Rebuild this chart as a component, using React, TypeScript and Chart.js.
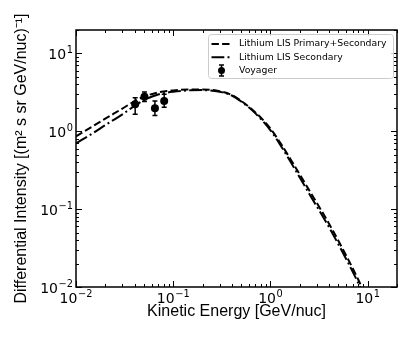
import { useEffect, useRef } from "react";
import { Chart, registerables } from "chart.js";

Chart.register(...registerables);

// ---- data ----
const energies = [0.01, 0.015, 0.02, 0.03, 0.04, 0.05, 0.07, 0.1, 0.15, 0.2, 0.3, 0.4, 0.5, 0.7, 1.0, 1.3, 1.7, 2.5, 4, 6, 8, 10];
const primarySecondary = [0.86, 1.17, 1.45, 1.96, 2.43, 2.78, 3.16, 3.35, 3.45, 3.45, 3.27, 2.92, 2.45, 1.75, 1.08, 0.67, 0.39, 0.175, 0.065, 0.0254, 0.0124, 0.0068];
const secondaryOnly = [0.7, 0.95, 1.2, 1.65, 2.12, 2.52, 2.97, 3.22, 3.36, 3.38, 3.22, 2.88, 2.41, 1.7, 1.03, 0.63, 0.36, 0.158, 0.0585, 0.0229, 0.0112, 0.0062];
const voyagerE = [0.0406, 0.0506, 0.0648, 0.0807];
const voyagerFlux = [2.22, 2.78, 1.97, 2.45];
const voyagerLow = [1.65, 2.42, 1.6, 2.03];
const voyagerHigh = [2.7, 3.19, 2.45, 2.98];

const seriesLabels = ["Lithium LIS Primary+Secondary", "Lithium LIS Secondary", "Voyager"];

const xRange = [0.01, 20];
const yRange = [0.01, 20];
const xDecades = [0.01, 0.1, 1, 10];
const xTickLabels = ["10^\u22122", "10^\u22121", "10^0", "10^1"];
const yDecades = [0.01, 0.1, 1, 10];
const yTickLabels = ["10^\u22122", "10^\u22121", "10^0", "10^1"];
const minorSteps = [1, 2, 3, 4, 5, 6, 7, 8, 9];

const xTitle = "Kinetic Energy [GeV/nuc]";
const yTitle = "Differential Intensity [(m\u00B2 s sr GeV/nuc)\u207B\u00B9]";

const DASHED = [7.4, 3.2];
const DASHDOT = [12.8, 3.2, 2, 3.2];

function logTicks(decades: number[], max: number) {
  const out: { value: number }[] = [];
  decades.forEach((d) => {
    minorSteps.forEach((m) => {
      const v = parseFloat((d * m).toPrecision(6));
      if (v <= max + 1e-9) out.push({ value: v });
    });
  });
  return out;
}

function isDecade(v: number) {
  const l = Math.log10(v);
  return Math.abs(l - Math.round(l)) < 1e-6;
}

// draw "base^exp" with a real raised exponent; y is the baseline
function drawPow(ctx: CanvasRenderingContext2D, label: string, x: number, y: number, align: "center" | "right") {
  const [base, exp] = label.split("^");
  ctx.font = '14px "DejaVu Sans"';
  const wb = ctx.measureText(base).width;
  ctx.font = '9.8px "DejaVu Sans"';
  const we = ctx.measureText(exp).width;
  const total = wb + 0.6 + we;
  const sx = align === "center" ? x - total / 2 : x - total;
  ctx.textAlign = "left";
  ctx.textBaseline = "alphabetic";
  ctx.font = '14px "DejaVu Sans"';
  ctx.fillText(base, sx, y);
  ctx.font = '9.8px "DejaVu Sans"';
  ctx.fillText(exp, sx + wb + 0.6, y - 6);
}

const decorPlugin = {
  id: "decor",
  afterDatasetsDraw(chart: any) {
    const { ctx, chartArea: a, scales } = chart;
    const xs = scales.x;
    const ys = scales.y;
    ctx.save();

    // error bars
    ctx.strokeStyle = "#000";
    ctx.lineWidth = 1.5;
    voyagerE.forEach((e, i) => {
      const px = xs.getPixelForValue(e);
      const pl = ys.getPixelForValue(voyagerLow[i]);
      const ph = ys.getPixelForValue(voyagerHigh[i]);
      ctx.beginPath();
      ctx.moveTo(px, pl);
      ctx.lineTo(px, ph);
      ctx.moveTo(px - 2.5, pl);
      ctx.lineTo(px + 2.5, pl);
      ctx.moveTo(px - 2.5, ph);
      ctx.lineTo(px + 2.5, ph);
      ctx.stroke();
    });

    // inward ticks on all four sides
    ctx.lineWidth = 1;
    ctx.beginPath();
    xs.ticks.forEach((t: any) => {
      const px = Math.round(xs.getPixelForValue(t.value)) + 0.5;
      const len = isDecade(t.value) ? 6 : 3;
      ctx.moveTo(px, a.bottom);
      ctx.lineTo(px, a.bottom - len);
      ctx.moveTo(px, a.top);
      ctx.lineTo(px, a.top + len);
    });
    ys.ticks.forEach((t: any) => {
      const py = Math.round(ys.getPixelForValue(t.value)) + 0.5;
      const len = isDecade(t.value) ? 6 : 3;
      ctx.moveTo(a.left, py);
      ctx.lineTo(a.left + len, py);
      ctx.moveTo(a.right, py);
      ctx.lineTo(a.right - len, py);
    });
    ctx.stroke();

    // frame
    ctx.lineWidth = 1.5;
    ctx.strokeRect(a.left, a.top, a.right - a.left, a.bottom - a.top);

    // tick labels (decades) with raised exponents, positioned by the scales
    ctx.fillStyle = "#000";
    xDecades.forEach((v, i) => {
      const px = xs.getPixelForValue(v);
      drawPow(ctx, xTickLabels[i], px, a.bottom + 16, "center");
    });
    yDecades.forEach((v, i) => {
      const py = ys.getPixelForValue(v);
      drawPow(ctx, yTickLabels[i], a.left - 3, py + 5.5, "right");
    });

    // legend
    const bw = 185;
    const bh = 44;
    const bx = a.right - 4 - bw;
    const by = a.top + 4;
    ctx.beginPath();
    if (ctx.roundRect) ctx.roundRect(bx + 0.5, by + 0.5, bw, bh, 3);
    else ctx.rect(bx + 0.5, by + 0.5, bw, bh);
    ctx.fillStyle = "rgba(255,255,255,0.8)";
    ctx.fill();
    ctx.strokeStyle = "#cccccc";
    ctx.lineWidth = 1;
    ctx.stroke();

    const datasets = chart.data.datasets;
    ctx.font = '9.3px "DejaVu Sans"';
    datasets.forEach((ds: any, i: number) => {
      const ry = by + 10 + i * 13.3;
      const lx0 = bx + 3.5;
      const lx1 = bx + 23.5;
      ctx.strokeStyle = "#000";
      ctx.fillStyle = "#000";
      if (ds.showLine === false) {
        const cx = (lx0 + lx1) / 2;
        ctx.lineWidth = 1.5;
        ctx.setLineDash([]);
        ctx.beginPath();
        ctx.moveTo(cx, ry - 5.5);
        ctx.lineTo(cx, ry + 5.5);
        ctx.moveTo(cx - 2.5, ry - 5.5);
        ctx.lineTo(cx + 2.5, ry - 5.5);
        ctx.moveTo(cx - 2.5, ry + 5.5);
        ctx.lineTo(cx + 2.5, ry + 5.5);
        ctx.stroke();
        ctx.beginPath();
        ctx.arc(cx, ry, 3.5, 0, Math.PI * 2);
        ctx.fill();
      } else {
        ctx.lineWidth = 2;
        ctx.setLineDash(ds.borderDash || []);
        ctx.beginPath();
        ctx.moveTo(lx0, ry);
        ctx.lineTo(lx1, ry);
        ctx.stroke();
        ctx.setLineDash([]);
      }
      ctx.font = '9.3px "DejaVu Sans"';
      ctx.textBaseline = "middle";
      ctx.textAlign = "left";
      ctx.fillText(ds.label, bx + 31, ry);
    });

    ctx.restore();
  },
};

export default function App() {
  const ref = useRef<HTMLCanvasElement>(null);

  useEffect(() => {
    document.body.style.margin = "0";
    const canvas = ref.current;
    if (!canvas) return;

    const titleFont = { family: "'Liberation Sans', Arial, sans-serif", size: 16 };

    const chart = new Chart(canvas, {
      type: "line",
      data: {
        datasets: [
          {
            label: seriesLabels[0],
            data: energies.map((e, i) => ({ x: e, y: primarySecondary[i] })),
            borderColor: "#000",
            borderWidth: 2,
            borderDash: DASHED,
            pointRadius: 0,
            fill: false,
            cubicInterpolationMode: "monotone",
          },
          {
            label: seriesLabels[1],
            data: energies.map((e, i) => ({ x: e, y: secondaryOnly[i] })),
            borderColor: "#000",
            borderWidth: 2,
            borderDash: DASHDOT,
            pointRadius: 0,
            fill: false,
            cubicInterpolationMode: "monotone",
          },
          {
            label: seriesLabels[2],
            data: voyagerE.map((e, i) => ({ x: e, y: voyagerFlux[i] })),
            showLine: false,
            pointRadius: 4,
            pointBackgroundColor: "#000",
            pointBorderColor: "#000",
            pointBorderWidth: 0,
          },
        ],
      } as any,
      options: {
        responsive: false,
        animation: false,
        devicePixelRatio: 1,
        layout: { padding: { top: 30, right: 10, left: 0, bottom: 0 } },
        plugins: {
          legend: { display: false },
          tooltip: { enabled: false },
        },
        scales: {
          x: {
            type: "logarithmic",
            min: xRange[0],
            max: xRange[1],
            grid: { display: false, drawTicks: false },
            border: { display: false },
            afterBuildTicks: (scale: any) => {
              scale.ticks = logTicks(xDecades, xRange[1]);
            },
            afterFit: (scale: any) => {
              scale.height = 52;
            },
            ticks: { display: false, autoSkip: false },
            title: {
              display: true,
              text: xTitle,
              color: "#000",
              font: titleFont,
              padding: { top: 0, bottom: 18 },
            },
          },
          y: {
            type: "logarithmic",
            min: yRange[0],
            max: yRange[1],
            grid: { display: false, drawTicks: false },
            border: { display: false },
            afterBuildTicks: (scale: any) => {
              scale.ticks = logTicks(yDecades, yRange[1]);
            },
            afterFit: (scale: any) => {
              scale.width = 76;
            },
            ticks: { display: false, autoSkip: false },
            title: {
              display: true,
              text: yTitle,
              color: "#000",
              font: titleFont,
              padding: { top: 12, bottom: 0 },
            },
          },
        },
      } as any,
      plugins: [decorPlugin],
    });

    return () => chart.destroy();
  }, []);

  return (
    <div style={{ width: 407, height: 339 }}>
      <canvas ref={ref} width={407} height={339} style={{ display: "block" }} />
    </div>
  );
}
